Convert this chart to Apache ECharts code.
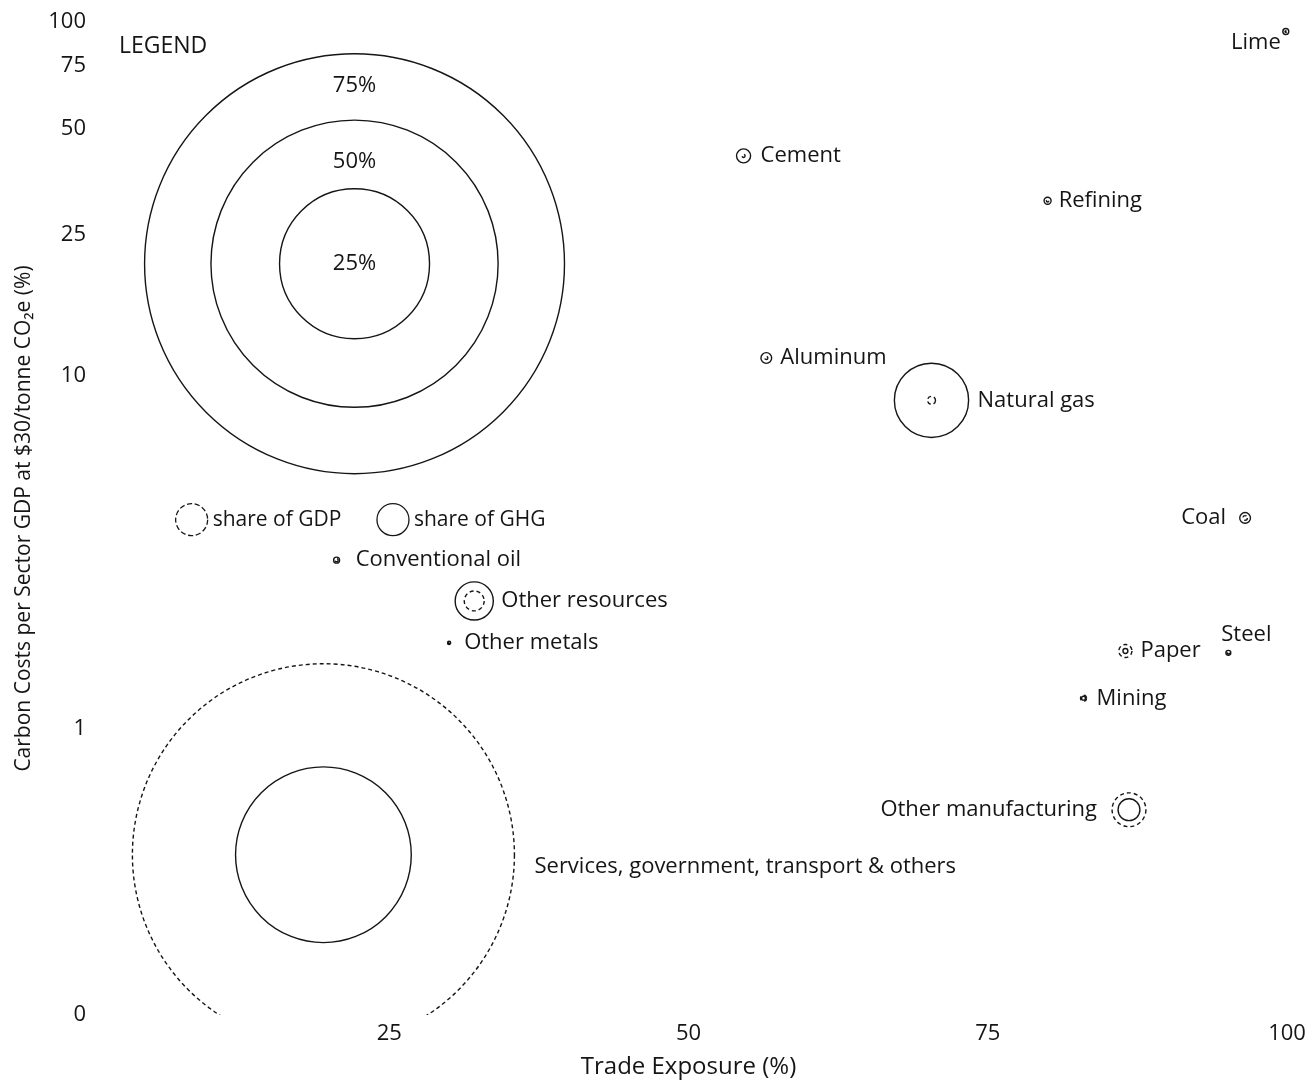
<!DOCTYPE html>
<html>
<head>
<meta charset="utf-8">
<title>Carbon costs vs trade exposure</title>
<script src="https://cdn.jsdelivr.net/npm/echarts@6/dist/echarts.min.js"></script>
<style>
  html, body { margin: 0; padding: 0; background: #fff; }
  #chart { width: 1315px; height: 1081px; }
</style>
</head>
<body>
<div id="chart"></div>
<script>
// sector data
var sectors = ['Lime', 'Cement', 'Refining', 'Aluminum', 'Natural gas', 'Coal',
  'Conventional oil', 'Other resources', 'Other metals', 'Paper', 'Steel',
  'Mining', 'Other manufacturing', 'Services, government, transport & others'];
var tradeExposure = [99.9, 54.6, 80.0, 56.5, 70.3, 96.5, 20.6, 32.1, 30.0, 86.5, 95.1, 83.0, 86.8, 19.5];
var carbonCost = [94, 41.8, 31.2, 11.2, 8.5, 3.95, 3.0, 2.3, 1.75, 1.66, 1.64, 1.22, 0.59, 0.44];
var gdpShare = [0.2, 0.4, 0.3, 0.4, 1.1, 0.6, 0.4, 2.9, 0.2, 1.85, 0.3, 0.8, 5.1, 67.8];
var ghgShare = [0.8, 2.0, 0.95, 1.5, 11.8, 1.5, 0.8, 5.8, 0.4, 0.65, 0.65, 0.5, 3.2, 29.6];

// size legend
var legendShares = [75, 50, 25];
var legendCenter = [22.1, 20.7];

// axis ticks
var yTicks = [1, 10, 25, 50, 75, 100];
var xTicks = [25, 50, 75, 100];

var FONT = 'Open Sans';
var INK = '#151515';
var Y_MIN = -0.81;   // log10 position of the "0" label
var Y_MAX = 2;

// bubble diameter (px) for a share in %
function diameter(share) {
  return 150 * Math.pow(share / 25, 0.937);
}

// where each sector label sits relative to its bubble centre
var labelPlace = {
  'Lime': { position: 'left', distance: 5, offset: [0, 11] },
  'Cement': { position: 'right', distance: 17 },
  'Refining': { position: 'right', distance: 11 },
  'Aluminum': { position: 'right', distance: 14 },
  'Natural gas': { position: 'right', distance: 46 },
  'Coal': { position: 'left', distance: 19 },
  'Conventional oil': { position: 'right', distance: 19 },
  'Other resources': { position: 'right', distance: 27 },
  'Other metals': { position: 'right', distance: 15 },
  'Paper': { position: 'right', distance: 15 },
  'Steel': { position: 'inside', offset: [18, -18] },
  'Mining': { position: 'right', distance: 13 },
  'Other manufacturing': { position: 'left', distance: 32 },
  'Services, government, transport & others': { position: 'right', distance: 211, offset: [0, 12] }
};
var legendLabelDy = { 75: -178, 50: -102, 25: 0 };

var chart = echarts.init(document.getElementById('chart'));

function bubbleSeries(name, shares, dash, clip) {
  return {
    name: name,
    type: 'custom',
    clip: clip,
    silent: true,
    data: tradeExposure.map(function (x, i) {
      return [x, Math.log10(carbonCost[i]), shares[i]];
    }),
    encode: { x: 0, y: 1 },
    renderItem: function (params, api) {
      var c = api.coord([api.value(0), api.value(1)]);
      return {
        type: 'circle',
        shape: { cx: c[0], cy: c[1], r: diameter(api.value(2)) / 2 },
        style: { fill: 'none', stroke: INK, lineWidth: 1.4, lineDash: dash }
      };
    }
  };
}

var option = {
  backgroundColor: '#fff',
  animation: false,
  textStyle: { fontFamily: FONT },
  title: {
    text: 'LEGEND',
    left: 114,
    top: 30,
    textStyle: { fontFamily: FONT, fontSize: 23, fontWeight: 'normal', color: INK }
  },
  legend: {
    left: 170,
    top: 498,
    itemWidth: 32,
    itemHeight: 32,
    itemGap: 35,
    selectedMode: false,
    textStyle: { fontFamily: FONT, fontSize: 21, color: INK },
    data: [
      { name: 'share of GDP', icon: 'circle',
        itemStyle: { color: 'transparent', borderColor: INK, borderWidth: 1.3, borderType: 'dashed' } },
      { name: 'share of GHG', icon: 'circle',
        itemStyle: { color: 'transparent', borderColor: INK, borderWidth: 1.3, borderType: 'solid' } }
    ]
  },
  grid: { left: 90, right: 28, top: 22, bottom: 66, outerBoundsMode: 'none' },
  xAxis: {
    type: 'value',
    min: 0,
    max: 100,
    interval: 25,
    name: 'Trade Exposure (%)',
    nameLocation: 'middle',
    nameGap: 40,
    nameTextStyle: { fontFamily: FONT, fontSize: 24, color: INK },
    axisLine: { show: false },
    axisTick: { show: false },
    splitLine: { show: false },
    axisLabel: {
      fontFamily: FONT, fontSize: 22, color: INK, margin: 8,
      customValues: xTicks,
      formatter: function (v) { return String(v); }
    }
  },
  yAxis: {
    type: 'value',
    min: Y_MIN,
    max: Y_MAX,
    name: 'Carbon Costs per Sector GDP at $30/tonne CO\u2082e (%)',
    nameLocation: 'middle',
    nameGap: 55,
    nameTextStyle: { fontFamily: FONT, fontSize: 21, color: INK },
    axisLine: { show: false },
    axisTick: { show: false },
    splitLine: { show: false },
    axisLabel: {
      fontFamily: FONT, fontSize: 22, color: INK, margin: 4,
      customValues: [Y_MIN].concat(yTicks.map(function (t) { return Math.log10(t); })),
      formatter: function (v) {
        if (v <= Y_MIN + 1e-6) return '0';
        return String(Math.round(Math.pow(10, v)));
      }
    }
  },
  series: [
    bubbleSeries('share of GDP', gdpShare, [4, 3], true),
    bubbleSeries('share of GHG', ghgShare, null, false),
    {
      name: 'size legend',
      type: 'custom',
      silent: true,
      data: legendShares.map(function (s) {
        return [legendCenter[0], Math.log10(legendCenter[1]), s];
      }),
      encode: { x: 0, y: 1 },
      renderItem: function (params, api) {
        var c = api.coord([api.value(0), api.value(1)]);
        var s = api.value(2);
        return {
          type: 'group',
          children: [
            { type: 'circle',
              shape: { cx: c[0], cy: c[1], r: diameter(s) / 2 },
              style: { fill: 'none', stroke: INK, lineWidth: 1.4 } },
            { type: 'text',
              style: { x: c[0], y: c[1] + legendLabelDy[s], text: s + '%',
                align: 'center', verticalAlign: 'middle',
                font: '22px "' + FONT + '"', fill: INK } }
          ]
        };
      }
    },
    {
      name: 'labels',
      type: 'scatter',
      silent: true,
      symbolSize: 0.1,
      itemStyle: { color: 'transparent' },
      emphasis: { disabled: true },
      data: sectors.map(function (name, i) {
        var p = labelPlace[name];
        return {
          name: name,
          value: [tradeExposure[i], Math.log10(carbonCost[i])],
          label: {
            show: true,
            formatter: '{b}',
            position: p.position,
            distance: p.distance || 0,
            offset: p.offset || [0, 0],
            fontFamily: FONT,
            fontSize: 22,
            color: INK,
            opacity: 1
          }
        };
      })
    }
  ]
};

chart.setOption(option);
</script>
</body>
</html>
